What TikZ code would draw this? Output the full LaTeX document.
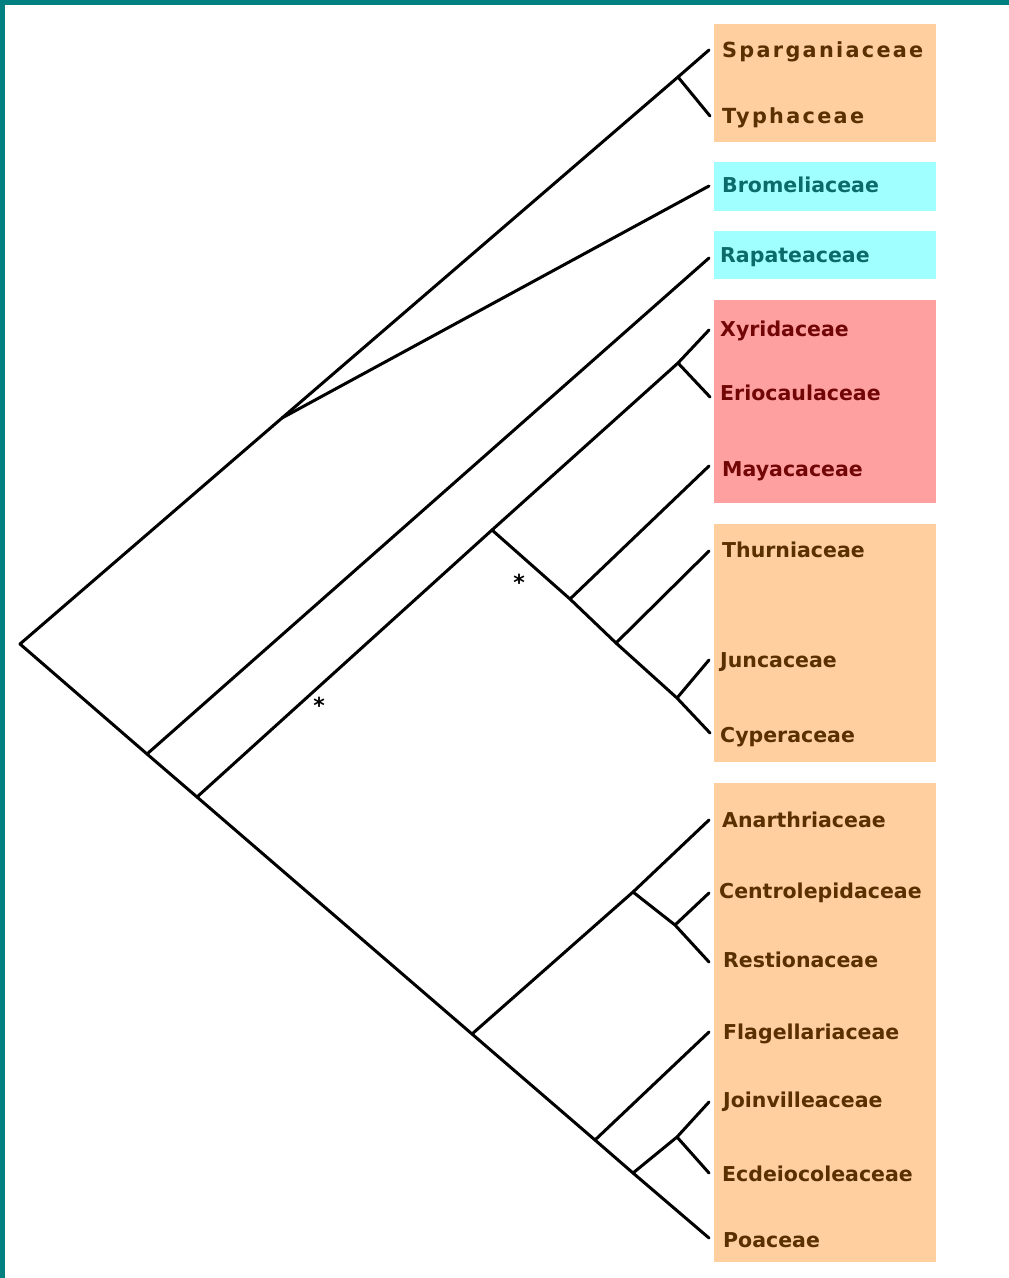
\documentclass[tikz,border=0pt]{standalone}
\usepackage{fontspec}
\setmainfont{DejaVu Sans}
\newfontfamily\pixfont{DejaVu Sans}[LetterSpace=11]
\definecolor{peach}{HTML}{FFCFA0}
\definecolor{cyanbox}{HTML}{A0FFFF}
\definecolor{pinkbox}{HTML}{FFA0A0}
\definecolor{borderteal}{HTML}{008080}
\definecolor{browntext}{HTML}{5A3000}
\definecolor{tealtext}{HTML}{0B6A6A}
\definecolor{redtext}{HTML}{720606}
\begin{document}
\begin{tikzpicture}[x=1pt,y=-1pt,
  branch/.style={line width=3pt,line cap=round,line join=round,black},
  lab/.style={anchor=base west,inner sep=0pt,font=\fontsize{20.5}{24}\selectfont\bfseries},
  pixlab/.style={anchor=base west,inner sep=0pt,font=\fontsize{20.8}{24}\selectfont\pixfont\bfseries},
  starlab/.style={anchor=base,inner sep=0pt,font=\fontsize{22}{26}\selectfont\bfseries}]
\useasboundingbox (0,0) rectangle (1009,1278);
% frame
\fill[white] (0,0) rectangle (1009,1278);
\fill[borderteal] (0,0) rectangle (1009,5);
\fill[borderteal] (0,0) rectangle (5,1278);
% boxes
\fill[peach] (714,24) rectangle (936,142);
\fill[cyanbox] (714,162) rectangle (936,211);
\fill[cyanbox] (714,231) rectangle (936,279);
\fill[pinkbox] (714,300) rectangle (936,503);
\fill[peach] (714,524) rectangle (936,762);
\fill[peach] (714,783) rectangle (936,1262);
% coordinates: tips
\coordinate (tSpar) at (709,50);
\coordinate (tTyph) at (710,116);
\coordinate (tBrom) at (709,186);
\coordinate (tRap) at (709,258);
\coordinate (tXyr) at (709,330);
\coordinate (tErio) at (710,397);
\coordinate (tMaya) at (709,466);
\coordinate (tThur) at (709,551);
\coordinate (tJunc) at (709,660);
\coordinate (tCyp) at (710,733);
\coordinate (tAnar) at (709,820);
\coordinate (tCent) at (709,893);
\coordinate (tRest) at (709,962);
\coordinate (tFlag) at (709,1032);
\coordinate (tJoin) at (709,1102);
\coordinate (tEcd) at (709,1173);
\coordinate (tPoa) at (709,1238);
% internal nodes
\coordinate (R) at (20,644);
\coordinate (nB) at (282,418);
\coordinate (nST) at (678,77);
\coordinate (n1) at (147,754);
\coordinate (n2) at (197,797);
\coordinate (n3) at (472,1034);
\coordinate (n4) at (595,1140);
\coordinate (n5) at (633,1173);
\coordinate (nS1) at (492,530);
\coordinate (nXE) at (678,363);
\coordinate (nM) at (570,599);
\coordinate (nT) at (616,643);
\coordinate (nJ) at (677,698);
\coordinate (nA) at (633,892);
\coordinate (nCR) at (675,925);
\coordinate (nJE) at (677,1137);
% branches
\draw[branch] (tSpar) -- (nST) -- (nB) -- (R) -- (n1) -- (n2) -- (n3) -- (n4) -- (n5) -- (tPoa);
\draw[branch] (nST) -- (tTyph);
\draw[branch] (nB) -- (tBrom);
\draw[branch] (n1) -- (tRap);
\draw[branch] (n2) -- (nS1) -- (nXE) -- (tXyr);
\draw[branch] (nXE) -- (tErio);
\draw[branch] (nS1) -- (nM) -- (nT) -- (nJ) -- (tCyp);
\draw[branch] (nM) -- (tMaya);
\draw[branch] (nT) -- (tThur);
\draw[branch] (nJ) -- (tJunc);
\draw[branch] (n3) -- (nA) -- (tAnar);
\draw[branch] (nA) -- (nCR) -- (tRest);
\draw[branch] (nCR) -- (tCent);
\draw[branch] (n4) -- (tFlag);
\draw[branch] (n5) -- (nJE) -- (tJoin);
\draw[branch] (nJE) -- (tEcd);
% labels
\node[pixlab,text=browntext] (lSpar) at (722,57) {Sparganiaceae};
\node[pixlab,text=browntext] (lTyph) at (722,123) {Typhaceae};
\node[lab,text=tealtext] (lBrom) at (722,192) {Bromeliaceae};
\node[lab,text=tealtext] (lRap) at (720,262) {Rapateaceae};
\node[lab,text=redtext] (lXyr) at (720,336) {Xyridaceae};
\node[lab,text=redtext] (lErio) at (720,400) {Eriocaulaceae};
\node[lab,text=redtext] (lMaya) at (722,476) {Mayacaceae};
\node[lab,text=browntext] (lThur) at (722,557) {Thurniaceae};
\node[lab,text=browntext] (lJunc) at (720,667) {Juncaceae};
\node[lab,text=browntext] (lCyp) at (720,742) {Cyperaceae};
\node[lab,text=browntext] (lAnar) at (722,827) {Anarthriaceae};
\node[lab,text=browntext] (lCent) at (719,898) {Centrolepidaceae};
\node[lab,text=browntext] (lRest) at (723,967) {Restionaceae};
\node[lab,text=browntext] (lFlag) at (723,1039) {Flagellariaceae};
\node[lab,text=browntext] (lJoin) at (723,1107) {Joinvilleaceae};
\node[lab,text=browntext] (lEcd) at (722,1181) {Ecdeiocoleaceae};
\node[lab,text=browntext] (lPoa) at (723,1247) {Poaceae};
% asterisks
\node[starlab] (star1) at (519,590) {*};
\node[starlab] (star2) at (319,713) {*};
\end{tikzpicture}
\end{document}
